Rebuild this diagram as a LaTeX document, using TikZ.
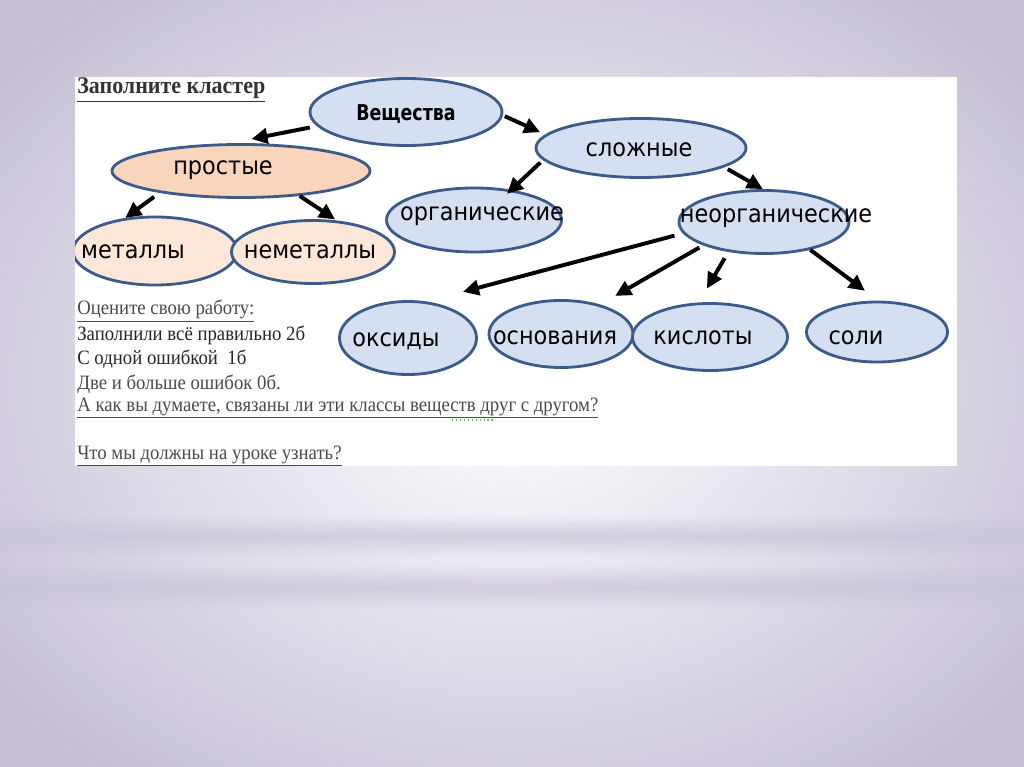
\documentclass[tikz,border=0pt]{standalone}
\usepackage{graphicx}
\usepackage{fontspec}
\setmainfont{Liberation Serif}
\newfontfamily\lblfont{DejaVu Sans}
\usetikzlibrary{shapes.geometric,arrows.meta,fadings}

\definecolor{bgc}{RGB}{198,191,213}
\definecolor{bandc}{RGB}{200,196,214}
\definecolor{blobfill}{RGB}{212,223,241}
\definecolor{blobline}{RGB}{60,90,138}
\definecolor{peachfill}{RGB}{248,213,187}
\definecolor{peachlight}{RGB}{252,231,216}
\definecolor{txtgray}{RGB}{75,75,75}
\definecolor{spellgreen}{RGB}{100,185,100}

\newcommand\narrow[2]{\scalebox{#1}[1]{#2}}

\tikzset{
  blob/.style={ellipse, draw=blobline, line width=2pt, fill=blobfill, inner sep=0pt},
  peach/.style={blob, fill=peachfill},
  lbl/.style={font=\lblfont\fontsize{17.5}{19}\selectfont, inner sep=0pt},
  arr/.style={line width=2.8pt, -{Triangle[length=0.4cm,width=0.38cm]}},
  note/.style={anchor=west, inner sep=0pt, text=txtgray, font=\fontsize{14.5}{16}\selectfont}
}

\begin{document}
\begin{tikzpicture}[x=0.025cm, y=-0.025cm]
        \useasboundingbox (0,0) rectangle (1024,767);
        \shade[inner color=white, outer color=bgc] (-150,-120) rectangle (1174,887);
        \fill[bandc, opacity=0.7, path fading=north] (0,515) rectangle (1024,536);
        \fill[bandc, opacity=0.7, path fading=south] (0,536) rectangle (1024,557);
        \fill[bandc, opacity=0.7, path fading=north] (0,565) rectangle (1024,587);
        \fill[bandc, opacity=0.7, path fading=south] (0,587) rectangle (1024,610);
        \fill[white] (75,77) rectangle (957,466);

        \begin{scope}
            \clip (75,77) rectangle (957,466);
            \node[blob, minimum width=4.8cm, minimum height=1.675cm] (ves) at (406,112) {};
            \node[peach, minimum width=6.45cm, minimum height=1.325cm] (prost) at (241,171) {};
            \node[peach, fill=peachlight, minimum width=4.1cm, minimum height=1.7cm] (met) at (155,251) {};
            \node[peach, fill=peachlight, minimum width=4.075cm, minimum height=1.575cm] (nemet) at (313,252) {};
            \node[blob, minimum width=5.25cm, minimum height=1.475cm] (slozh) at (641,148) {};
            \node[blob, minimum width=4.375cm, minimum height=1.6cm] (org) at (474,220) {};
            \node[blob, minimum width=4.25cm, minimum height=1.575cm] (neorg) at (764,222) {};
            \node[blob, minimum width=3.425cm, minimum height=1.825cm] (oks) at (408,338) {};
            \node[blob, minimum width=3.6cm, minimum height=1.675cm] (osn) at (561,334) {};
            \node[blob, minimum width=3.875cm, minimum height=1.675cm] (kisl) at (710,337) {};
            \node[blob, minimum width=3.525cm, minimum height=1.5cm] (soli) at (877,332) {};
        \end{scope}

        \node[lbl, font=\lblfont\bfseries\fontsize{15.5}{17}\selectfont] (t-ves) at (406,114) {\narrow{0.8}{Вещества}};
        \node[lbl] (t-prost) at (223,170) {\narrow{0.91}{простые}};
        \node[lbl] (t-met) at (133,252) {\narrow{0.91}{металлы}};
        \node[lbl] (t-nemet) at (310,252) {\narrow{0.91}{неметаллы}};
        \node[lbl] (t-slozh) at (639,150) {\narrow{0.91}{сложные}};
        \node[lbl] (t-org) at (482,216) {\narrow{0.91}{органические}};
        \node[lbl] (t-neorg) at (776,218) {\narrow{0.91}{неорганические}};
        \node[lbl] (t-oks) at (396,341) {\narrow{0.91}{оксиды}};
        \node[lbl] (t-osn) at (555,338) {\narrow{0.91}{основания}};
        \node[lbl] (t-kisl) at (703,338) {\narrow{0.91}{кислоты}};
        \node[lbl] (t-soli) at (856,338) {\narrow{0.91}{соли}};

        \draw[arr, shorten <=1.8mm, shorten >=5.4mm] (ves.189) -- (prost.111);
        \draw[arr, shorten <=0.5mm, shorten >=1.4mm] (ves.358) -- (slozh.172);
        \draw[arr, shorten <=1.7mm] (prost.195) -- (met.132);
        \draw[arr, shorten >=0.5mm] (prost.337) -- (nemet.53);
        \draw[arr, shorten <=0.9mm, shorten >=-1.5mm] (slozh.187) -- (org.39);
        \draw[arr, shorten <=1mm] (slozh.347) -- (neorg.92);
        \draw[arr, shorten <=2.2mm, shorten >=9.4mm] (neorg.188) -- (oks.63);
        \draw[arr, shorten <=1.1mm, shorten >=4.3mm] (neorg.201) -- (osn.37);
        \draw[arr, shorten <=1.8mm, shorten >=4mm] (neorg.220) -- (kisl.108);
        \draw[arr, shorten >=4.1mm] (neorg.329) -- (soli.88);

        \node[note, font=\bfseries\fontsize{17}{19}\selectfont, text=black!80] (head) at (77,90) {\underline{\narrow{0.92}{Заполните кластер}}};
        \node[note] (rate) at (77,311) {\underline{\narrow{0.92}{Оцените свою работу:}}};
        \node[note, text=black!85] (two) at (77,335) {\narrow{0.92}{Заполнили всё правильно 2б}};
        \node[note, text=black!85] (one) at (77,359) {\narrow{0.92}{С одной ошибкой~~1б}};
        \node[note] (zero) at (77,384) {\narrow{0.92}{Две и больше ошибок 0б.}};
        \node[note] (ask) at (77,408) {\underline{\narrow{0.92}{А как вы думаете, связаны ли эти классы веществ друг с другом?}}};
        \node[note] (learn) at (77,456) {\underline{\narrow{0.92}{Что мы должны на уроке узнать?}}};
        \draw[spellgreen, line width=0.8pt, dotted] (452,420) -- (494,420);
\end{tikzpicture}
\end{document}
